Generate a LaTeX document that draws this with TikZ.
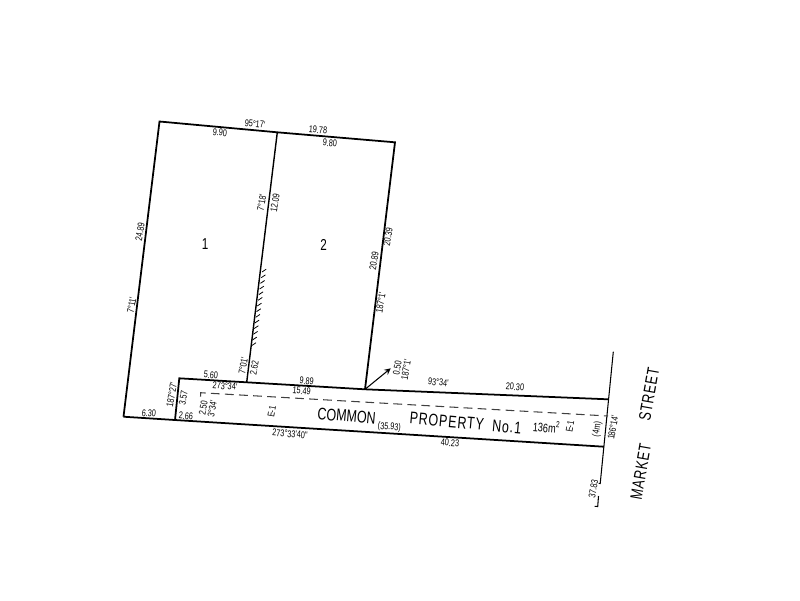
\documentclass[tikz,border=0pt]{standalone}
\usepackage{fontspec}
\setmainfont{Liberation Sans}
\newfontfamily\planfont[FakeStretch=0.74]{Liberation Sans}
\newfontfamily\widefont[FakeStretch=0.74,LetterSpace=5]{Liberation Sans}
\tikzset{
	lotline/.style={line width=1pt,black},
	wallline/.style={line width=0.8pt,black},
	thinline/.style={line width=0.6pt,black},
	dim/.style={font=\planfont\fontsize{5.6}{6}\selectfont,inner sep=0pt,rotate=-5},
	dimup/.style={dim,rotate=85},
	big/.style={font=\widefont\fontsize{9.6}{11}\selectfont,inner sep=0pt,rotate=-5},
	bigup/.style={big,rotate=85},
	lotno/.style={font=\planfont\fontsize{9}{10}\selectfont,inner sep=0pt}
}
\begin{document}
\begin{tikzpicture}[x=0.02cm,y=-0.02cm]
	\useasboundingbox (0,0) rectangle (800,600);
	\coordinate (topleft) at (159.5,121.5);
	\coordinate (topmid) at (277.3,132.3);
	\coordinate (topright) at (395,142.3);
	\coordinate (lotcorner) at (365,389.3);
	\coordinate (baseleft) at (123.5,416.7);
	\coordinate (basemid) at (175,420);
	\coordinate (cpcorner) at (179.3,378.3);
	\coordinate (wallfoot) at (246.7,382.3);
	\coordinate (hatchtop) at (262,272);
	\coordinate (cpright) at (608.3,399.3);
	\coordinate (cpbase) at (604,446.7);
	\coordinate (streettop) at (613.3,351.7);
	\coordinate (streetend) at (600.2,483.5);
	\coordinate (streetlow) at (598.5,496);
	\coordinate (streetfoot) at (597.7,506.5);
	\coordinate (easeleft) at (200.7,392.7);
	\coordinate (easetick) at (200.5,396.5);
	\coordinate (easeright) at (608,416);
	\coordinate (arrowtip) at (390.7,368.3);
	% boundaries
	\draw[lotline] (baseleft) -- (topleft) -- (topmid) -- (topright) -- (lotcorner);
	\draw[wallline] (topmid) -- (wallfoot);
	\draw[lotline] (baseleft) -- (basemid) -- (cpbase);
	\draw[lotline] (basemid) -- (cpcorner) -- (wallfoot) -- (lotcorner) -- (cpright);
	\draw[thinline] (streettop) -- (streetend) -- ++(-1.5,-0.2);
	\draw[thinline] (streetlow) -- (streetfoot) -- ++(-3,-0.2);
	\draw[thinline,black!75,dash pattern=on 5pt off 3pt] (easetick) -- (easeleft) -- ++(3,0.2) -- (easeright);
	\draw[thinline,-stealth] (lotcorner) -- (arrowtip);
	% hatching
	\foreach \i in {0,...,13} {
		\path (hatchtop) -- (wallfoot) coordinate[pos=\i/19.5] (hatchbase);
		\draw[line width=0.45pt] (hatchbase) -- ++(4.2,-2.8);
	}
	% lot numbers
	\node[lotno] (lotone) at (205,244) {1};
	\node[lotno] (lottwo) at (323.5,245) {2};
	% dimensions
	\node[dim] (angletop) at (255,124) {95°17'};
	\node[dim] (topa) at (220,132.7) {9.90};
	\node[dim] (toptotal) at (318,130) {19.78};
	\node[dim] (topb) at (330,143) {9.80};
	\node[dimup] (anglewall) at (261.7,202.7) {7°18'};
	\node[dimup] (wallupper) at (275,203) {12.09};
	\node[dimup] (rightupper) at (388,236.7) {20.39};
	\node[dimup] (rightlower) at (374,260.7) {20.89};
	\node[dimup] (angleright) at (380.7,302.7) {187°1'};
	\node[dimup] (leftlen) at (140,231.7) {24.89};
	\node[dimup] (angleleft) at (131.7,305) {7°11'};
	\node[dim] (cptopa) at (211,375) {5.60};
	\node[dim] (cpangle) at (225,386) {273°34'};
	\node[dimup] (anglefoot) at (243.3,366) {7°01'};
	\node[dimup] (walllower) at (254.3,367.7) {2.62};
	\node[dim] (cptopb) at (306.7,381) {9.89};
	\node[dim] (cptotal) at (301.7,390.7) {15.49};
	\node[dimup] (cpendangle) at (171.7,395) {187°27'};
	\node[dimup] (cpend) at (183.3,398.3) {3.57};
	\node[dim] (basea) at (149,413.3) {6.30};
	\node[dim] (baseb) at (186,416) {2.66};
	\node[dimup] (easewidth) at (203.3,408.3) {2.50};
	\node[dimup] (easeangle) at (212.3,408.3) {3°34'};
	\node[dimup] (easea) at (271.7,411.7) {E-1};
	\node[dim] (baseangle) at (290,434) {273°33'40"};
	\node[dimup] (shorta) at (397.3,368.3) {0.50};
	\node[dimup] (shortb) at (406,370) {187°1'};
	\node[dim] (cpangleb) at (438.3,382.3) {93°34'};
	\node[dim] (easelen) at (389.3,427.3) {(35.93)};
	\node[dim] (baselen) at (450,443) {40.23};
	\node[dim] (cptopc) at (515,386.7) {20.30};
	\node[dimup] (easeb) at (570,426.7) {E-1};
	\node[dimup] (easeend) at (597.3,429.3) {(4m)};
	\node[dimup] (streetangle) at (613,427.3) {186°14'};
	\node[dimup] (streetlen) at (593.3,489.3) {37.83};
	% labels
	\node[big,font=\planfont\fontsize{9.6}{11}\selectfont] (common) at (346.7,416) {COMMON};
	\node[big] (property) at (465.5,423) {PROPERTY\ \ No.1};
	\node[dim,font=\planfont\fontsize{7}{8}\selectfont] (area) at (546.7,426.7) {136m\textsuperscript{2}};
	\node[bigup] (market) at (640.7,471.7) {MARKET};
	\node[bigup] (street) at (649,394.5) {STREET};
\end{tikzpicture}
\end{document}
